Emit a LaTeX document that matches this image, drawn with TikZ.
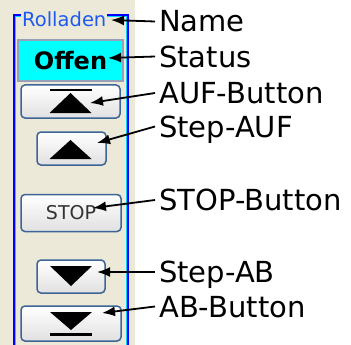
\documentclass[tikz,border=0pt]{standalone}
\usepackage{fontspec}
\setmainfont{DejaVu Sans}
\usetikzlibrary{arrows.meta, calc}
\definecolor{panelbg}{RGB}{236,233,216}
\definecolor{framebl}{RGB}{0,0,255}
\definecolor{framecy}{RGB}{0,215,255}
\definecolor{titlebl}{RGB}{30,90,240}
\definecolor{btnborder}{RGB}{60,100,150}
\definecolor{statusbd}{RGB}{150,160,185}
\definecolor{statusbg}{RGB}{0,255,255}
\tikzset{btn/.style = {draw=btnborder, line width=1.5pt, rounded corners=4pt, top color=white, bottom color=black!12, inner sep=0pt}}
\tikzset{lbl/.style = {anchor=west, inner xsep=4pt, inner ysep=0pt, font=\fontsize{29}{33}\selectfont, text height=21pt, text depth=0pt}}
\tikzset{arr/.style = {line width=1.8pt, -{Latex[length=13pt, width=10pt]}}}

\begin{document}
\begin{tikzpicture}[x=1pt, y=-1pt]
\useasboundingbox (0,0) rectangle (351,345);
\fill [panelbg] (0,0) rectangle (135,345);
\draw [framebl, line width=2pt] (14,350) -- (14,15) -- (127.5,15) -- (127.5,350);
\draw [framecy, line width=1pt] (15.5,350) -- (15.5,16.5) -- (126,16.5) -- (126,350);
\node [anchor=west, fill=panelbg, inner xsep=1pt, inner ysep=0pt, text=titlebl, font=\fontsize{19.5}{22}\selectfont] (title) at (21,19) {Rolladen};
\node [draw=statusbd, line width=1.5pt, fill=statusbg, minimum width=105pt, minimum height=41pt, font=\bfseries\fontsize{24}{27}\selectfont] (status) at (70.5,60.5) {Offen};
\node [btn, minimum width=99pt, minimum height=33pt] (auf) at (70.5,101.5) {};
\node [btn, minimum width=69pt, minimum height=33pt] (stepauf) at (71.5,148.5) {};
\node [btn, minimum width=100pt, minimum height=37pt, text=black!80, font=\fontsize{19}{22}\selectfont] (stop) at (71,213) {STOP};
\node [btn, minimum width=68pt, minimum height=33pt] (stepab) at (71,276.5) {};
\node [btn, minimum width=100pt, minimum height=35pt] (ab) at (71,323.5) {};
\fill ([shift={(-21,-12.75)}]auf.center) rectangle ([shift={(21,-10.25)}]auf.center);
\fill ([shift={(-21,11.5)}]auf.center) -- ([shift={(21,11.5)}]auf.center) -- ([shift={(0,-8.5)}]auf.center) -- cycle;
\fill ([shift={(-22,10.5)}]stepauf.center) -- ([shift={(20,10.5)}]stepauf.center) -- ([shift={(-1,-8.5)}]stepauf.center) -- cycle;
\fill ([shift={(-21,-10.5)}]stepab.center) -- ([shift={(21,-10.5)}]stepab.center) -- ([shift={(0,9.5)}]stepab.center) -- cycle;
\fill ([shift={(-21,-11.5)}]ab.center) -- ([shift={(21,-11.5)}]ab.center) -- ([shift={(0,6.5)}]ab.center) -- cycle;
\fill ([shift={(-21,9.75)}]ab.center) rectangle ([shift={(21,12.25)}]ab.center);
\node [lbl] (lname) at (155,21.5) {Name};
\node [lbl] (lstatus) at (155,56.5) {Status};
\node [lbl] (lauf) at (155,93) {AUF-Button};
\node [lbl] (lstepauf) at (155,126.5) {Step-AUF};
\node [lbl] (lstop) at (155,200) {STOP-Button};
\node [lbl] (lstepab) at (155,272) {Step-AB};
\node [lbl] (lab) at (155,306.5) {AB-Button};
\coordinate (tname) at (111,20);
\coordinate (tstatus) at (108,58);
\coordinate (tauf) at (90,103);
\coordinate (tstepauf) at (97,143);
\coordinate (tstop) at (93,208);
\coordinate (tstepab) at (97,272);
\coordinate (tab) at (102,313);
\foreach \l/\t in {lname/tname, lstatus/tstatus, lauf/tauf, lstepauf/tstepauf, lstop/tstop, lstepab/tstepab, lab/tab}
  \draw [arr] (\l.west) -- (\t);
\end{tikzpicture}
\end{document}
